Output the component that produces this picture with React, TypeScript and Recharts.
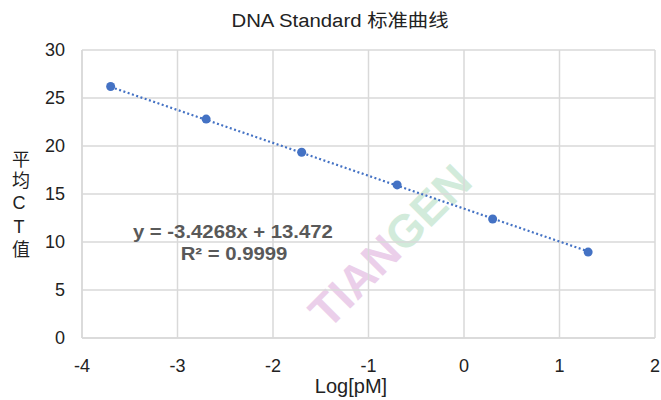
import {
  ComposedChart,
  Scatter,
  XAxis,
  YAxis,
  CartesianGrid,
  ReferenceDot,
} from "recharts";

const logConc = [-3.7, -2.7, -1.7, -0.7, 0.3, 1.3];
const meanCt = [26.2, 22.8, 19.35, 15.95, 12.4, 8.95];
const trendX = [-3.7, 1.3];
const trendY = [26.15, 9.02];
const xTicks = [-4, -3, -2, -1, 0, 1, 2];
const yTicks = [0, 5, 10, 15, 20, 25, 30];

const equation = "y = -3.4268x + 13.472";
const rSquared = "R² = 0.9999";

const points = logConc.map((x, i) => ({ x, y: meanCt[i] }));
const trend = trendX.map((x, i) => ({ x, y: trendY[i] }));

const font = '"Liberation Sans", Arial, "Noto Sans CJK SC", sans-serif';
const blue = "#4472c4";
const grid = "#d9d9d9";
const ink = "#222";

function EquationLabel(props: any) {
  const vb = props.viewBox || {};
  const cx = vb.x + (vb.width || 0) / 2;
  const cy = vb.y + (vb.height || 0) / 2;
  return (
    <g
      fontFamily={font}
      fontWeight="bold"
      fontSize={18}
      fill="#595959"
      textAnchor="middle"
      transform={`translate(${cx} ${cy}) scale(1.13 1)`}
    >
      <text x={0} y={-6} dy="0.35em">
        {equation}
      </text>
      <text x={1} y={16} dy="0.35em">
        {rSquared}
      </text>
    </g>
  );
}

// faint TIANGEN watermark across the plot
function Watermark() {
  return (
    <svg
      width={661}
      height={400}
      style={{ position: "absolute", left: 0, top: 0, pointerEvents: "none" }}
    >
      <text
        transform="translate(390 246) rotate(-45)"
        y={16}
        textAnchor="middle"
        fontFamily={font}
        fontWeight="bold"
        fontSize={46}
        opacity={0.75}
      >
        <tspan fill="#e5c0e3">TIAN</tspan>
        <tspan fill="#c3e5cf">GEN</tspan>
      </text>
    </svg>
  );
}

export default function App() {
  return (
    <div
      style={{
        position: "absolute",
        left: 0,
        top: 0,
        width: 661,
        height: 400,
        background: "#fff",
        fontFamily: font,
        overflow: "hidden",
      }}
    >
      <div
        style={{
          position: "absolute",
          left: 0,
          width: 680,
          top: 9,
          lineHeight: "24px",
          textAlign: "center",
          fontSize: 18,
          color: ink,
          transform: "scaleX(1.13)",
          transformOrigin: "340px 0",
        }}
      >
        DNA Standard 标准曲线
      </div>
      <div
        style={{
          position: "absolute",
          left: 8,
          top: 150,
          writingMode: "vertical-rl",
          textOrientation: "upright",
          fontSize: 18,
          lineHeight: "22px",
          color: ink,
          letterSpacing: 3.5,
        }}
      >
        平均CT值
      </div>
      <div
        style={{
          position: "absolute",
          left: 0,
          width: 702,
          top: 374,
          lineHeight: "24px",
          textAlign: "center",
          fontSize: 20,
          color: ink,
        }}
      >
        Log[pM]
      </div>
      <Watermark />
      <ComposedChart
        width={661}
        height={400}
        margin={{ top: 50, right: 6, bottom: 0, left: 0 }}
        style={{ position: "absolute", left: 0, top: 0 }}
      >
        <CartesianGrid stroke={grid} strokeWidth={1.5} />
        <XAxis
          type="number"
          dataKey="x"
          domain={[-4, 2]}
          ticks={xTicks}
          height={62}
          tickLine={false}
          axisLine={{ stroke: grid, strokeWidth: 1.5 }}
          tickMargin={15}
          tick={{ fill: ink, fontSize: 18, fontFamily: font }}
        />
        <YAxis
          type="number"
          dataKey="y"
          domain={[0, 30]}
          ticks={yTicks}
          width={82}
          tickLine={false}
          axisLine={{ stroke: grid, strokeWidth: 1.5 }}
          tickMargin={11}
          tick={{ fill: ink, fontSize: 18, fontFamily: font }}
        />
        <Scatter
          data={trend}
          isAnimationActive={false}
          line={{ stroke: blue, strokeWidth: 2.2, strokeDasharray: "2 2.5" }}
          shape={() => <g />}
        />
        <Scatter
          data={points}
          fill={blue}
          isAnimationActive={false}
          shape={(p: any) => <circle cx={p.cx} cy={p.cy} r={4.5} fill={blue} />}
        />
        <ReferenceDot
          x={-2.42}
          y={10.4}
          r={0}
          stroke="none"
          fill="none"
          label={<EquationLabel />}
        />
      </ComposedChart>
    </div>
  );
}
